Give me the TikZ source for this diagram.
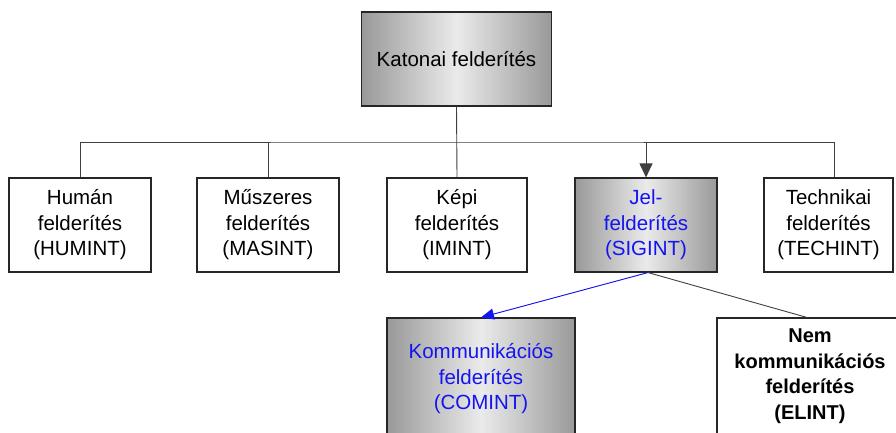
\documentclass[tikz,border=0pt]{standalone}
\usepackage{fontspec}
\setmainfont{Liberation Sans}
\usetikzlibrary{arrows.meta}
\definecolor{txtblue}{RGB}{20,20,240}
\begin{document}
\begin{tikzpicture}[x=1pt,y=-1pt,
  box/.style={draw=black!85, line width=1.1pt, inner sep=0pt, align=center,
    font=\fontsize{20.5}{25.5}\selectfont, minimum height=94pt},
  gbox/.style={box, left color=black!40, right color=black!40, middle color=black!8},
  conn/.style={draw=black!75, line width=0.9pt},
  arr/.style={-{Triangle[length=14pt,width=13pt]}}]
\clip (0,0) rectangle (896,432);
\fill[white] (0,0) rectangle (896,432);

\node[gbox, minimum width=190pt] (top) at (456.5,59) {Katonai felderítés};

\node[box, minimum width=142pt] (hum) at (80,225) {Humán\\felderítés\\(HUMINT)};
\node[box, minimum width=142pt] (mus) at (268,225) {Műszeres\\felderítés\\(MASINT)};
\node[box, minimum width=140pt] (kep) at (457,225) {Képi\\felderítés\\(IMINT)};
\node[gbox, minimum width=142pt, text=txtblue] (jel) at (646,225) {Jel-\\felderítés\\(SIGINT)};
\node[box, minimum width=129pt] (tech) at (828.5,225) {Technikai\\felderítés\\(TECHINT)};

\node[gbox, minimum width=188pt, minimum height=122pt, text=txtblue] (komm) at (481,379) {Kommunikációs\\felderítés\\(COMINT)};
\node[box, minimum width=186pt, minimum height=116pt, font=\fontsize{20}{25.5}\selectfont\bfseries] (nem) at (810,376) {Nem\\kommunikációs\\felderítés\\(ELINT)};

\coordinate (tn) at ([xshift=5.5pt]tech.north);
\coordinate (j) at (456.5,142);

\draw[conn] (top.south) -- (kep.north);
\draw[conn] (hum.north) |- (j) -| (tn);
\draw[conn] (mus.north) -- (mus.north |- j);
\draw[conn, arr, fill=black] (jel.north |- j) -- (jel.north);
\draw[draw=txtblue, line width=0.9pt, -{Triangle[length=13pt,width=11pt]}, fill=txtblue] ([xshift=2pt]jel.south) -- (komm.north);
\draw[conn] ([xshift=2pt]jel.south) -- ([xshift=-3pt]nem.north);
\end{tikzpicture}
\end{document}
